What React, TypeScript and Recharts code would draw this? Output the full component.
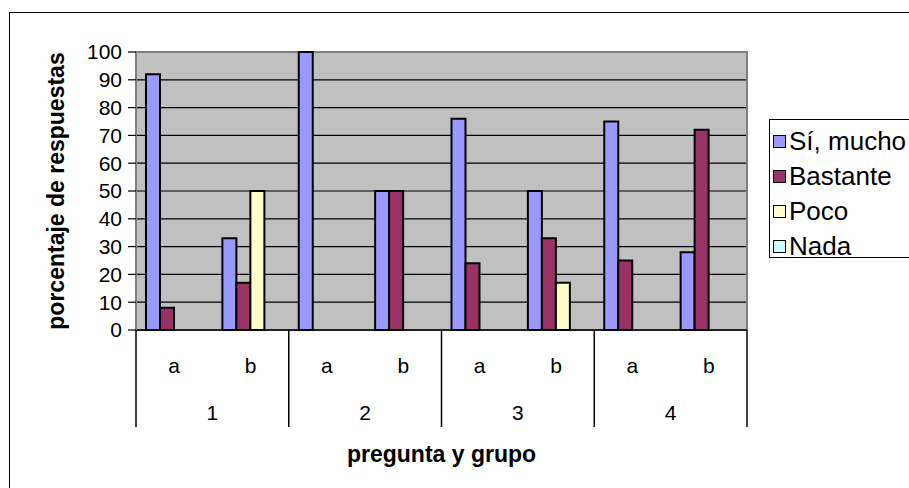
import { BarChart, Bar, XAxis, YAxis, CartesianGrid, ReferenceArea } from 'recharts'

const categories = ['1a', '1b', '2a', '2b', '3a', '3b', '4a', '4b']
const groupLabels = ['1', '2', '3', '4']
const subLabels = ['a', 'b', 'a', 'b', 'a', 'b', 'a', 'b']

const siMucho = [92, 33, 100, 50, 76, 50, 75, 28]
const bastante = [8, 17, 0, 50, 24, 33, 25, 72]
const poco = [0, 50, 0, 0, 0, 17, 0, 0]
const nada = [0, 0, 0, 0, 0, 0, 0, 0]

const yTicks = [0, 10, 20, 30, 40, 50, 60, 70, 80, 90, 100]

const series = [
  { key: 'si', name: 'Sí, mucho', color: '#9999ff', values: siMucho },
  { key: 'bastante', name: 'Bastante', color: '#993366', values: bastante },
  { key: 'poco', name: 'Poco', color: '#ffffcc', values: poco },
  { key: 'nada', name: 'Nada', color: '#ccffff', values: nada },
]

const data = categories.map((cat, i) => {
  const row: { [k: string]: string | number } = { cat }
  series.forEach((s) => {
    row[s.key] = s.values[i]
  })
  return row
})

const FONT = '"Liberation Sans", Arial, sans-serif'
const W = 909
const H = 488
const MARGIN = { top: 52, right: 162, bottom: 0, left: 0 }
const Y_AXIS_W = 136
const X_AXIS_H = 158
const PLOT_W = W - MARGIN.left - MARGIN.right - Y_AXIS_W
const BAND = PLOT_W / categories.length

// two-level category axis: sub label per bar group, question number per pair
function CategoryTick(props: any) {
  const { x, y, payload } = props
  const i = payload.index
  const half = BAND / 2
  return (
    <g fontFamily={FONT} fontSize={21} fill="#000">
      <text x={x} y={y + 43} textAnchor="middle">{subLabels[i]}</text>
      {i % 2 === 0 && (
        <>
          <line x1={x - half} x2={x - half} y1={y} y2={y + 97} stroke="#000" strokeWidth={1.5} />
          <text x={x + half} y={y + 90} textAnchor="middle">{groupLabels[i / 2]}</text>
        </>
      )}
      {i === categories.length - 1 && (
        <line x1={x + half} x2={x + half} y1={y} y2={y + 97} stroke="#000" strokeWidth={1.5} />
      )}
    </g>
  )
}

function LegendBox() {
  return (
    <div
      style={{
        position: 'absolute',
        left: 769,
        top: 119,
        border: '1px solid #000',
        background: '#fff',
        width: 170,
        height: 139,
        paddingTop: 4,
        boxSizing: 'border-box',
        fontFamily: FONT,
        fontSize: 26,
      }}
    >
      {series.map((s) => (
        <div key={s.key} style={{ display: 'flex', alignItems: 'center', height: 35, paddingLeft: 3 }}>
          <span
            style={{
              display: 'inline-block',
              width: 11,
              height: 11,
              background: s.color,
              border: '1.5px solid #000',
              marginRight: 3,
            }}
          />
          <span>{s.name}</span>
        </div>
      ))}
    </div>
  )
}

export default function App() {
  return (
    <div style={{ position: 'absolute', left: 0, top: 0, width: W, height: H, overflow: 'hidden', background: '#fff' }}>
      <div
        style={{
          position: 'absolute',
          left: 9,
          top: 12,
          width: 1000,
          height: 1000,
          borderLeft: '1.5px solid #000',
          borderTop: '1.5px solid #000',
        }}
      />
      <div style={{ position: 'absolute', left: 0, top: 0 }}>
        <BarChart width={W} height={H} data={data} margin={MARGIN} barCategoryGap={10} barGap={0}>
          <CartesianGrid vertical={false} stroke="#000" strokeWidth={1.2} fill="#c0c0c0" fillOpacity={1} />
          <ReferenceArea y1={0} y2={100} fill="none" stroke="#808080" strokeWidth={2} />
          <XAxis
            dataKey="cat"
            height={X_AXIS_H}
            tickLine={false}
            tickSize={0}
            tickMargin={0}
            interval={0}
            axisLine={{ stroke: '#000', strokeWidth: 1.5 }}
            tick={<CategoryTick />}
            label={(p: any) => {
              const vb = p.viewBox
              return (
                <text
                  x={vb.x + vb.width / 2}
                  y={vb.y + 132}
                  textAnchor="middle"
                  fontFamily={FONT}
                  fontSize={23}
                  fontWeight="bold"
                  fill="#000"
                >
                  pregunta y grupo
                </text>
              )
            }}
          />
          <YAxis
            width={Y_AXIS_W}
            domain={[0, 100]}
            ticks={yTicks}
            interval={0}
            tickSize={8}
            tickMargin={6}
            tickLine={{ stroke: '#000', strokeWidth: 1.2 }}
            axisLine={{ stroke: '#808080', strokeWidth: 2 }}
            tick={{ fill: '#000', fontSize: 21, fontFamily: FONT }}
            label={(p: any) => {
              const vb = p.viewBox
              const cx = vb.x + 64
              const cy = vb.y + vb.height / 2
              return (
                <text
                  x={cx}
                  y={cy}
                  transform={`rotate(-90 ${cx} ${cy})`}
                  textAnchor="middle"
                  fontFamily={FONT}
                  fontSize={23}
                  fontWeight="bold"
                  fill="#000"
                >
                  porcentaje de respuestas
                </text>
              )
            }}
          />
          {series.map((s) => (
            <Bar
              key={s.key}
              dataKey={s.key}
              name={s.name}
              fill={s.color}
              stroke="#000"
              strokeWidth={2}
              isAnimationActive={false}
            />
          ))}
        </BarChart>
      </div>
      <LegendBox />
    </div>
  )
}
